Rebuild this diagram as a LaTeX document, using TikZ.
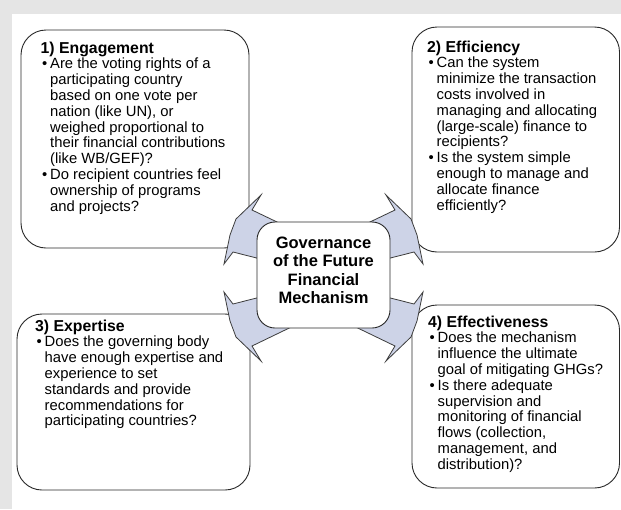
\documentclass[tikz,border=0pt]{standalone}
\usepackage{fontspec}
\setmainfont{Liberation Sans}
\definecolor{arrowfill}{RGB}{205,211,231}
\definecolor{bggray}{RGB}{229,229,229}
\definecolor{edge}{RGB}{40,40,40}
\newcommand\bulx{\makebox[9.5pt][l]{\hspace{1.5pt}•}}
\newcommand\indx{\hspace*{9.5pt}}
\newcommand\hdx[1]{{\fontsize{15.8}{15.8}\selectfont\bfseries #1}}
\begin{document}
\begin{tikzpicture}[x=1pt,y=-1pt,
  box/.style={draw=edge, line width=0.9pt, fill=white, rounded corners=25pt},
  cbox/.style={draw=edge, line width=0.9pt, fill=white, rounded corners=18pt},
  arr/.style={draw=edge!90, line width=0.8pt, fill=arrowfill, line join=miter},
  txt/.style={anchor=base west, inner sep=0pt, font=\fontsize{14.8}{15.8}\selectfont},
  ctxt/.style={anchor=base, inner sep=0pt, font=\fontsize{16.5}{18.5}\selectfont\bfseries}]
\useasboundingbox (0,0) rectangle (621,509);
% background
\fill[bggray] (0,0) rectangle (621,509);
\fill[white] (12,14) rectangle (621,509);
% outer boxes
\draw[box] (21,30) rectangle (249,248);
\draw[box] (412,27) rectangle (619.5,252);
\draw[box] (17,314) rectangle (250,490);
\draw[box] (412,305) rectangle (619.5,488);
% arrows
\draw[arr] (261,195) -- (252,210) -- (300,233) -- (300,269) -- (233,252) -- (224,264) -- (230,235) -- (236,219) -- cycle;
\draw[arr] (386,195) -- (395,210) -- (347,233) -- (347,269) -- (414,252) -- (423,264) -- (417,235) -- (411,219) -- cycle;
\draw[arr] (261,361) -- (252,346) -- (310,318) -- (300,287) -- (233,304) -- (224,292) -- (230,321) -- (236,337) -- cycle;
\draw[arr] (386,361) -- (395,346) -- (337,318) -- (347,287) -- (414,304) -- (423,292) -- (417,321) -- (411,337) -- cycle;
% centre box
\draw[cbox] (257,222) rectangle (390,328);
\node[ctxt] (center) at (323.5,248) {\begin{tabular}[t]{@{}c@{}}Governance\\of the Future\\Financial\\Mechanism\end{tabular}};
% texts
\node[txt] (t1) at (40.5,53) {\begin{tabular}[t]{@{}l@{}}\hdx{1) Engagement}\\
\bulx Are the voting rights of a\\
\indx participating country\\
\indx based on one vote per\\
\indx nation (like UN), or\\
\indx weighed proportional to\\
\indx their financial contributions\\
\indx (like WB/GEF)?\\
\bulx Do recipient countries feel\\
\indx ownership of programs\\
\indx and projects?\end{tabular}};
\node[txt] (t2) at (427,52) {\begin{tabular}[t]{@{}l@{}}\hdx{2) Efficiency}\\
\bulx Can the system\\
\indx minimize the transaction\\
\indx costs involved in\\
\indx managing and allocating\\
\indx (large-scale) finance to\\
\indx recipients?\\
\bulx Is the system simple\\
\indx enough to manage and\\
\indx allocate finance\\
\indx efficiently?\end{tabular}};
\node[txt] (t3) at (35,331) {\begin{tabular}[t]{@{}l@{}}\hdx{3) Expertise}\\
\bulx Does the governing body\\
\indx have enough expertise and\\
\indx experience to set\\
\indx standards and provide\\
\indx recommendations for\\
\indx participating countries?\end{tabular}};
\node[txt] (t4) at (428,327) {\begin{tabular}[t]{@{}l@{}}\hdx{4) Effectiveness}\\
\bulx Does the mechanism\\
\indx influence the ultimate\\
\indx goal of mitigating GHGs?\\
\bulx Is there adequate\\
\indx supervision and\\
\indx monitoring of financial\\
\indx flows (collection,\\
\indx management, and\\
\indx distribution)?\end{tabular}};
\end{tikzpicture}
\end{document}
